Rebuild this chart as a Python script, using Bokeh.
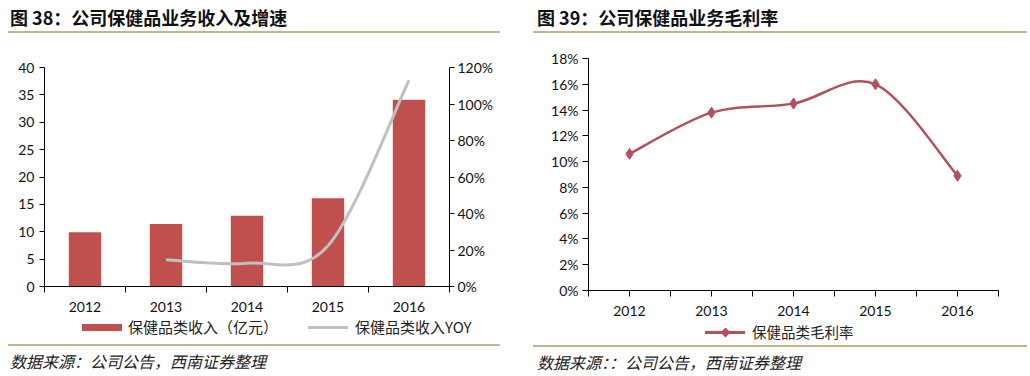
import numpy as np
from bokeh.plotting import figure
from bokeh.models import (Range1d, LinearAxis, FixedTicker, NumeralTickFormatter,
                          ColumnDataSource, Div)
from bokeh.layouts import row, column
from bokeh.embed import file_html
from bokeh.resources import INLINE

# ---------------- data ----------------
years = ["2012", "2013", "2014", "2015", "2016"]
revenue = [9.9, 11.4, 12.9, 16.1, 34.1]            # 保健品类收入（亿元）
yoy_years = ["2013", "2014", "2015", "2016"]
yoy = [0.146, 0.128, 0.223, 1.13]                   # 保健品类收入YOY
gross_margin = [0.106, 0.138, 0.145, 0.160, 0.089]  # 保健品类毛利率

title1 = "图 38：公司保健品业务收入及增速"
title2 = "图 39：公司保健品业务毛利率"
source1 = "数据来源：公司公告，西南证券整理"
source2 = "数据来源：：公司公告，西南证券整理"
leg_rev = "保健品类收入（亿元）"
leg_yoy = "保健品类收入YOY"
leg_gm = "保健品类毛利率"

CJK = "Noto Sans CJK SC"
NUM = "Lato"
RULE = "#c2b48c"
BAR = "#c0504d"
GREY = "#c0c0c0"
GM = "#b4505c"
W = 515
HDR = 40


def pos(cats):
    return [years.index(c) + 0.5 for c in cats]


def smooth(xs, ys):
    xs = np.asarray(xs, float)
    ys = np.asarray(ys, float)
    n = len(xs)
    out = {k: [] for k in ("x0", "y0", "x1", "y1", "cx0", "cy0", "cx1", "cy1")}
    for i in range(n - 1):
        a = max(i - 1, 0)
        b = min(i + 2, n - 1)
        out["x0"].append(xs[i]); out["y0"].append(ys[i])
        out["x1"].append(xs[i + 1]); out["y1"].append(ys[i + 1])
        out["cx0"].append(xs[i] + (xs[i + 1] - xs[a]) / 6)
        out["cy0"].append(ys[i] + (ys[i + 1] - ys[a]) / 6)
        out["cx1"].append(xs[i + 1] - (xs[b] - xs[i]) / 6)
        out["cy1"].append(ys[i + 1] - (ys[b] - ys[i]) / 6)
    return ColumnDataSource(out)


def style_xaxis(ax, major_out, standoff):
    ax.ticker = FixedTicker(ticks=[i + 0.5 for i in range(len(years))],
                            minor_ticks=list(range(len(years) + 1)))
    ax.major_label_overrides = {i + 0.5: y for i, y in enumerate(years)}
    ax.major_tick_out = major_out
    ax.major_tick_in = 0
    ax.minor_tick_out = 6
    ax.minor_tick_in = 0
    ax.major_label_standoff = standoff
    ax.major_label_text_font = NUM
    ax.major_label_text_font_size = "14px"
    ax.major_label_text_color = "#111111"
    ax.axis_line_color = "#000000"
    ax.major_tick_line_color = "#000000"
    ax.minor_tick_line_color = "#000000"


def style_yaxis(ax, standoff):
    ax.major_tick_out = 5
    ax.major_tick_in = 0
    ax.minor_tick_line_color = None
    ax.major_label_standoff = standoff
    ax.major_label_text_font = NUM
    ax.major_label_text_font_size = "14px"
    ax.major_label_text_color = "#111111"
    ax.axis_line_color = "#000000"
    ax.major_tick_line_color = "#000000"


def box(left, top, w, h, color, extra=""):
    return (f'<div style="position:absolute;left:{left}px;top:{top}px;width:{w}px;height:{h}px;'
            f'background:{color};{extra}"></div>')


def txt(left, cy, text, size, style=""):
    return (f'<div style="position:absolute;left:{left}px;top:{cy - 9}px;white-space:nowrap;'
            f"font-family:'{CJK}';font-size:{size};line-height:18px;color:#222222;{style}\">"
            f'{text}</div>')


def header(title, tx, rl, rw):
    html = (f'<div style="position:relative;width:{W}px;height:{HDR}px;">'
            f'<div style="position:absolute;left:{tx}px;top:6px;white-space:nowrap;'
            f"font-family:'{CJK}';font-size:18px;font-weight:bold;line-height:22px;"
            f'color:#111111;">{title}</div>'
            + box(rl, 31, rw, 2, RULE) + '</div>')
    return Div(text=html, width=W, height=HDR, margin=0)


def footer(top, legend_html, source, tx, rl, rw, rule_y, text_y):
    h = 376 - top
    html = (f'<div style="position:relative;width:{W}px;height:{h}px;">'
            + legend_html
            + box(rl, rule_y - top - 1, rw, 2, RULE)
            + txt(tx, text_y - top, source, "16px", "font-style:italic;")
            + '</div>')
    return Div(text=html, width=W, height=h, margin=0)


def base_fig(left, right, top, bottom, height, y_range):
    p = figure(width=W, height=height,
               min_border_left=left, min_border_right=right,
               min_border_top=top, min_border_bottom=bottom,
               x_range=Range1d(0, 5), y_range=y_range,
               output_backend="svg", toolbar_location=None,
               background_fill_color="white", border_fill_color="white",
               outline_line_color=None)
    p.grid.visible = False
    return p


# ---------------- figure 38 ----------------
# page layout: header 0-40, plot 40-316 (frame 67-286), footer 316-376
B1 = 30
H1 = 27 + 219 + B1
p1 = base_fig(44, 66, 27, B1, H1, Range1d(0, 40))
p1.extra_y_ranges = {"yoy": Range1d(0, 1.2)}

p1.vbar(x=pos(years), top=revenue, width=0.4, bottom=0, fill_color=BAR, line_color=None)
p1.bezier(source=smooth(pos(yoy_years), yoy), x0="x0", y0="y0", x1="x1", y1="y1",
          cx0="cx0", cy0="cy0", cx1="cx1", cy1="cy1",
          line_color=GREY, line_width=3, y_range_name="yoy")

style_xaxis(p1.xaxis[0], 0, 9)
p1.yaxis[0].ticker = FixedTicker(ticks=list(range(0, 41, 5)))
style_yaxis(p1.yaxis[0], 5)
ax_r = LinearAxis(y_range_name="yoy", ticker=FixedTicker(ticks=[0, 0.2, 0.4, 0.6, 0.8, 1.0, 1.2]),
                  formatter=NumeralTickFormatter(format="0%"))
style_yaxis(ax_r, 3)
p1.add_layout(ax_r, "right")

T1 = HDR + H1
leg1 = (box(82, 327 - T1 - 3.5, 40, 7, BAR)
        + txt(128, 327 - T1, leg_rev, "15px")
        + box(308, 327 - T1 - 1.5, 40, 3, GREY)
        + txt(355, 327 - T1, leg_yoy, "15px"))

# ---------------- figure 39 ----------------
# page layout: header 0-40, plot 40-324 (frame 58-290), footer 324-376
B2 = 34
H2 = 18 + 232 + B2
p2 = base_fig(73, 32, 18, B2, H2, Range1d(0, 0.18))

p2.bezier(source=smooth(pos(years), gross_margin), x0="x0", y0="y0", x1="x1", y1="y1",
          cx0="cx0", cy0="cy0", cx1="cx1", cy1="cy1",
          line_color=GM, line_width=2.5)
p2.scatter(x=pos(years), y=gross_margin, marker="diamond", size=11,
           fill_color=GM, line_color=GM)

style_xaxis(p2.xaxis[0], 6, 9)
p2.yaxis[0].ticker = FixedTicker(ticks=[i / 100 for i in range(0, 19, 2)])
p2.yaxis[0].formatter = NumeralTickFormatter(format="0%")
style_yaxis(p2.yaxis[0], 4)
p2.yaxis[0].major_tick_out = 6

T2 = HDR + H2
cy2 = 332 - T2
leg2 = (box(190, cy2 - 1.5, 40, 3, GM)
        + box(206.5, cy2 - 3.5, 7, 7, GM, "transform:rotate(45deg);")
        + txt(237, cy2, leg_gm, "14.5px"))

left = column(header(title1, 10, 8, 492), p1,
              footer(T1, leg1, source1, 10, 8, 492, 345, 361))
right = column(header(title2, 22, 18, 494), p2,
               footer(T2, leg2, source2, 22, 18, 494, 346, 362))
layout = row(left, right)
open("out.html", "w").write(file_html(layout, INLINE))
